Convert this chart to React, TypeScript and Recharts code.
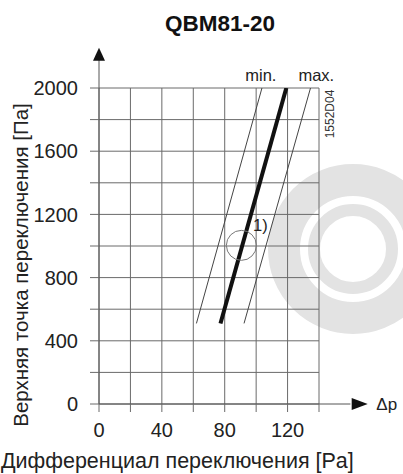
import React from 'react';
import { LineChart, Line, XAxis, YAxis, CartesianGrid, ReferenceDot, ReferenceLine } from 'recharts';

// Differential (Pa) at the lower and upper end of each band
const minDiff = [62, 103.7];
const nominalDiff = [77.3, 119.2];
const maxDiff = [92.3, 134.6];
// Upper switching point (Pa) at the two ends
const upperPoint = [510, 2000];

const xTicks = [0, 20, 40, 60, 80, 100, 120, 140];
const xLabelTicks = [0, 40, 80, 120];
const yTicks = [0, 200, 400, 600, 800, 1000, 1200, 1400, 1600, 1800, 2000];
const yLabelTicks = [0, 400, 800, 1200, 1600, 2000];

const marker = { x: 90.6, y: 1004 };

const toSeries = (xs: number[]) => xs.map((x, i) => ({ x, y: upperPoint[i] }));

const FONT = '"Liberation Sans", Arial, Helvetica, sans-serif';

const UpArrow = (props: any) => {
  const { cx, cy } = props;
  return <polygon points={`${cx},${cy} ${cx - 6},${cy + 13} ${cx + 6},${cy + 13}`} fill="#111" />;
};
const RightArrow = (props: any) => {
  const { cx, cy } = props;
  return <polygon points={`${cx},${cy} ${cx - 16},${cy - 6} ${cx - 16},${cy + 6}`} fill="#111" />;
};
const TextShape = (txt: string, size: number, anchor: string = 'middle') => (props: any) => (
  <text x={props.cx} y={props.cy} fontSize={size} fontFamily={FONT} fill="#222" textAnchor={anchor}>{txt}</text>
);

export default function App() {
  return (
    <div style={{ position: 'absolute', left: 0, top: 0, width: 403, height: 474, background: '#fff', fontFamily: FONT, overflow: 'hidden' }}>
      <svg width={403} height={474} style={{ position: 'absolute', left: 0, top: 0 }}>
        <circle cx={353} cy={249} r={69} fill="none" stroke="#e3e3e3" strokeWidth={32} />
        <circle cx={353} cy={249} r={39} fill="none" stroke="#e3e3e3" strokeWidth={12} />
      </svg>
      <div style={{ position: 'absolute', left: 0, top: 0 }}>
        <LineChart width={403} height={474} data={[]} margin={{ top: 88, right: 84, bottom: 30, left: 0 }}>
          <CartesianGrid stroke="#6a6a6a" strokeWidth={1} />
          <XAxis
            type="number"
            dataKey="x"
            domain={[0, 140]}
            ticks={xTicks}
            tickFormatter={(v: number) => (xLabelTicks.includes(v) ? String(v) : '')}
            axisLine={false}
            tickLine={{ stroke: '#6a6a6a' }}
            tickSize={8}
            tickMargin={11}
            height={40}
            tick={{ fontSize: 20, fill: '#222', fontFamily: FONT }}
            allowDataOverflow
            interval={0}
          />
          <YAxis
            type="number"
            dataKey="y"
            domain={[0, 2000]}
            ticks={yTicks}
            tickFormatter={(v: number) => (yLabelTicks.includes(v) ? String(v) : '')}
            axisLine={false}
            tickLine={{ stroke: '#6a6a6a' }}
            tickSize={9}
            tickMargin={12}
            width={99}
            tick={{ fontSize: 20, fill: '#222', fontFamily: FONT }}
            allowDataOverflow
            interval={0}
          />
          <ReferenceLine segment={[{ x: 0, y: 0 }, { x: 0, y: 2200 }]} stroke="#555" strokeWidth={1} ifOverflow="visible" />
          <ReferenceLine segment={[{ x: 0, y: 0 }, { x: 160, y: 0 }]} stroke="#555" strokeWidth={1} ifOverflow="visible" />
          <ReferenceDot x={0} y={2255} shape={UpArrow} ifOverflow="visible" />
          <ReferenceDot x={171} y={0} shape={RightArrow} ifOverflow="visible" />
          <ReferenceDot x={marker.x} y={marker.y} r={15} fill="none" stroke="#777" strokeWidth={1} ifOverflow="visible" />
          <Line data={toSeries(minDiff)} dataKey="y" stroke="#444" strokeWidth={1} dot={false} isAnimationActive={false} />
          <Line data={toSeries(maxDiff)} dataKey="y" stroke="#444" strokeWidth={1} dot={false} isAnimationActive={false} />
          <Line data={toSeries(nominalDiff)} dataKey="y" stroke="#111" strokeWidth={4} dot={false} isAnimationActive={false} />
          <ReferenceDot x={103} y={2044} shape={TextShape('min.', 16.5)} ifOverflow="visible" />
          <ReferenceDot x={138.3} y={2044} shape={TextShape('max.', 16.5)} ifOverflow="visible" />
          <ReferenceDot x={98} y={1095} shape={TextShape('1)', 16.5, 'start')} ifOverflow="visible" />
          <ReferenceDot x={176.5} y={0} shape={(p: any) => (
            <text x={p.cx} y={p.cy + 6} fontSize={17} fontFamily={FONT} fill="#222">Δp</text>
          )} ifOverflow="visible" />
        </LineChart>
      </div>
      <div style={{ position: 'absolute', left: 0, top: 11, width: 440, textAlign: 'center', fontWeight: 'bold', fontSize: 22.5, color: '#111', lineHeight: '26px' }}>QBM81-20</div>
      <svg width={403} height={474} style={{ position: 'absolute', left: 0, top: 0, pointerEvents: 'none' }}>
        <text x={0} y={0} transform="translate(330 114) rotate(-90)" fontSize={12} fontFamily={FONT} fill="#333" textAnchor="middle" dominantBaseline="central">1552D04</text>
        <text x={0} y={0} transform="translate(20 265) rotate(-90)" fontSize={20.5} fontFamily={FONT} fill="#222" textAnchor="middle" dominantBaseline="central">Верхняя точка переключения [Па]</text>
        <text x={1} y={468} fontSize={21.5} fontFamily={FONT} fill="#222">Дифференциал переключения [Pa]</text>
      </svg>
    </div>
  );
}
